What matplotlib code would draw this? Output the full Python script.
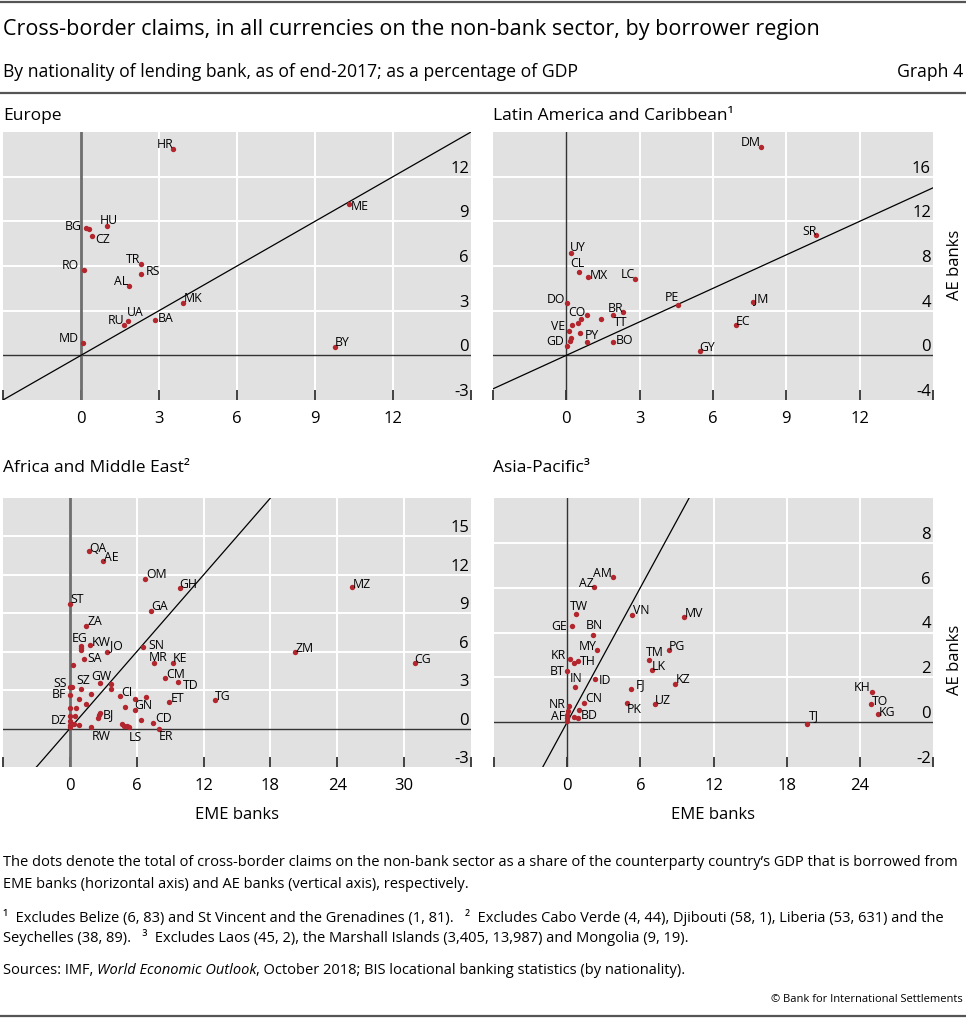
import numpy as np
import matplotlib
matplotlib.use("Agg")
import matplotlib.pyplot as plt
from matplotlib.lines import Line2D

plt.rcParams['font.family'] = ['Open Sans', 'DejaVu Sans']

# ---------------- data (x = EME banks, y = AE banks, % of GDP) ----------------
eu_codes = ['HR', 'ME', 'HU', 'BG', '', 'CZ', 'RO', 'TR', 'RS', 'AL', 'MK', 'UA', 'RU', 'BA', 'MD', 'BY']
eu_eme = [3.54, 10.29, 1.00, 0.19, 0.29, 0.41, 0.13, 2.29, 2.31, 1.84, 3.94, 1.80, 1.66, 2.83, 0.08, 9.78]
eu_ae = [13.88, 10.18, 8.66, 8.55, 8.48, 7.99, 5.76, 6.14, 5.47, 4.69, 3.53, 2.28, 2.05, 2.39, 0.83, 0.56]

la_codes = ['DM', 'SR', 'UY', 'CL', 'MX', 'LC', 'DO', 'PE', 'JM', 'EC', 'GY', 'BR', 'TT', '', '',
            'CO', '', '', 'VE', '', '', '', 'GD', 'PY', 'BO']
la_eme = [7.95, 10.22, 0.18, 0.51, 0.87, 2.80, 0.04, 4.56, 7.65, 6.93, 5.45, 2.31, 1.89, 1.41, 0.86,
          0.61, 0.46, 0.22, 0.10, 0.56, 0.18, 0.14, 0.01, 0.86, 1.91]
la_ae = [18.69, 10.76, 9.18, 7.48, 7.03, 6.86, 4.65, 4.50, 4.77, 2.71, 0.36, 3.87, 3.61, 3.22, 3.58,
         3.28, 2.92, 2.71, 2.18, 1.97, 1.55, 1.25, 0.86, 1.22, 1.16]

af_codes = ['QA', 'AE', 'OM', 'GH', 'ST', 'GA', 'ZA', 'EG', '', '', 'KW', 'JO', 'SN', 'SA', 'MR', 'KE', '',
            'CM', 'TD', 'GW', '', '', 'SS', '', 'SZ', 'BF', '', 'CI', '', '', '', 'ET', 'TG', '', '', '',
            '', 'GN', 'BJ', '', '', '', '', '', 'CD', 'DZ', '', '', '', '', '', 'RW', '', '', '', 'LS',
            'ER', 'ZM', 'MZ', 'CG']
af_eme = [1.70, 2.96, 6.75, 9.85, 0.00, 7.25, 1.49, 1.00, 1.00, 0.97, 1.79, 3.31, 6.54, 1.28, 7.58, 9.28, 0.27,
          8.51, 9.73, 2.75, 3.70, 3.70, 0.00, 0.21, 1.04, 0.03, 1.88, 4.51, 0.78, 5.85, 6.84, 8.90, 12.99, 1.43,
          0.00, 0.51, 4.96, 5.82, 2.72, 2.60, 2.54, 0.00, 0.48, 6.42, 7.43, 0.00, 0.00, 0.21, 0.36, 0.81, 0.00,
          1.91, 4.66, 4.90, 5.13, 5.34, 8.03, 20.21, 25.31, 30.96]
af_ae = [13.83, 13.11, 11.71, 10.95, 9.73, 9.19, 8.02, 6.46, 6.28, 6.10, 6.51, 6.00, 6.38, 5.40, 5.09, 5.14, 4.96,
         3.94, 3.63, 3.56, 3.50, 3.11, 3.24, 3.22, 3.11, 2.60, 2.73, 2.54, 2.31, 2.31, 2.44, 2.05, 2.21, 1.95,
         1.58, 1.61, 1.69, 1.45, 1.19, 1.04, 0.86, 0.99, 1.01, 0.67, 0.47, 0.60, 0.29, 0.34, 0.39, 0.29, 0.10,
         0.16, 0.34, 0.23, 0.18, 0.13, 0.00, 5.97, 11.03, 5.11]

ap_codes = ['AM', 'AZ', 'TW', 'VN', 'MV', 'GE', 'BN', 'MY', 'PG', 'TM', 'KR', '', 'TH', 'LK', 'BT', 'IN',
            'ID', 'KZ', 'FJ', 'CN', 'PK', 'UZ', 'NR', '', 'AF', '', '', '', '', 'BD', 'KH', 'TO', 'KG', 'TJ']
ap_eme = [3.72, 2.19, 0.71, 5.33, 9.60, 0.41, 2.13, 2.43, 8.37, 6.70, 0.27, 0.55, 0.85, 6.97, 0.00, 0.63,
          2.32, 8.86, 5.25, 1.42, 4.87, 7.22, 0.14, 0.05, 0.00, 0.00, 0.00, 0.93, 0.55, 0.85, 24.99, 24.93,
          25.48, 19.70]
ap_ae = [6.46, 6.01, 4.84, 4.79, 4.67, 4.28, 3.91, 3.20, 3.20, 2.77, 2.81, 2.65, 2.74, 2.32, 2.28, 1.57,
         1.94, 1.72, 1.49, 0.87, 0.87, 0.81, 0.70, 0.52, 0.18, 0.33, 0.03, 0.53, 0.22, 0.18, 1.36, 0.81,
         0.36, -0.09]

# label offsets from the dot, in pixels (dx, dy up)
eu_off = {'HR': (-8, 4), 'ME': (11, -3), 'HU': (2, 6), 'BG': (-13, 2), 'CZ': (11, -3), 'RO': (-14, 4),
          'TR': (-7, 4), 'RS': (12, 2), 'AL': (-8, 4), 'MK': (10, 4), 'UA': (7, 9), 'RU': (-8, 4),
          'BA': (11, 1), 'MD': (-14, 4), 'BY': (7, 4)}
la_off = {'DM': (-10, 4), 'SR': (-7, 4), 'UY': (7, 5), 'CL': (-1, 8), 'MX': (11, 1), 'LC': (-7, 4),
          'DO': (-11, 4), 'PE': (-6, 8), 'JM': (8, 4), 'EC': (7, 4), 'GY': (8, 4), 'BR': (-7, 4),
          'TT': (8, -7), 'CO': (-4, 6), 'VE': (-11, 4), 'PY': (5, 6), 'GD': (-11, 4), 'BO': (11, 2)}
af_off = {'QA': (9, 3), 'AE': (8, 3), 'OM': (11, 4), 'GH': (9, 4), 'ST': (7, 4), 'GA': (9, 4), 'ZA': (8, 4),
          'EG': (-1, 7), 'KW': (11, 3), 'JO': (10, 6), 'SN': (14, 1), 'SA': (11, 1), 'MR': (4, 6),
          'KE': (7, 4), 'CM': (11, 4), 'TD': (12, -3), 'GW': (1, 6), 'SS': (-10, 4), 'SZ': (2, 8),
          'BF': (-11, 1), 'CI': (7, 4), 'ET': (9, 4), 'TG': (8, 4), 'GN': (9, 4), 'BJ': (8, -1),
          'CD': (11, 4), 'DZ': (-11, 0), 'RW': (10, -10), 'LS': (6, -11), 'ER': (7, -8),
          'ZM': (10, 4), 'MZ': (10, 3), 'CG': (8, 4)}
ap_off = {'AM': (-10, 4), 'AZ': (-7, 4), 'TW': (3, 7), 'VN': (9, 4), 'MV': (10, 4), 'GE': (-13, 0),
          'BN': (1, 9), 'MY': (-9, 4), 'PG': (8, 4), 'TM': (6, 8), 'KR': (-12, 4), 'TH': (10, -1),
          'LK': (7, 4), 'BT': (-10, 0), 'IN': (1, 8), 'ID': (9, -2), 'KZ': (8, 4), 'FJ': (9, 4),
          'CN': (9, 4), 'PK': (8, -7), 'UZ': (8, 4), 'NR': (-12, 2), 'AF': (-9, 2), 'BD': (12, 3),
          'KH': (-10, 4), 'TO': (9, 3), 'KG': (9, 2), 'TJ': (6, 9)}

W, H = 966, 1019
fig = plt.figure(figsize=(W / 100, H / 100), dpi=100)


def fx(px):
    return px / W


def fy(py):
    return 1 - py / H


DOT = '#b3262d'
BG = '#e1e1e1'


def panel(box, codes, eme, ae, offs, xlim, ylim, xstep, ystep, vzero):
    l, t, r, b = box
    ax = fig.add_axes([fx(l), fy(b), fx(r) - fx(l), fy(t) - fy(b)])
    ax.set_facecolor(BG)
    for s in ax.spines.values():
        s.set_visible(False)
    ax.set_xlim(xlim)
    ax.set_ylim(ylim)

    xt = np.arange(xlim[0], xlim[1] + 0.01, xstep)
    yt = np.arange(ylim[0], ylim[1] - ystep + 0.01, ystep)
    for v in xt[1:-1]:
        if v != 0:
            ax.axvline(v, color='white', lw=1.4, zorder=1)
    for v in yt[1:]:
        if v != 0:
            ax.axhline(v, color='white', lw=1.4, zorder=1)

    ax.axhline(0, color='#333333', lw=1.0, zorder=2)
    ax.axvline(0, color=vzero[0], lw=vzero[1], zorder=2)
    ax.axline((0, 0), slope=1, color='black', lw=0.9, zorder=3)

    ax.scatter(eme, ae, s=15, color=DOT, linewidths=0, zorder=4)
    for c, x, y in zip(codes, eme, ae):
        if c:
            ax.annotate(c, (x, y), xytext=offs[c], textcoords='offset pixels',
                        ha='center', va='center', fontsize=8.8, zorder=5)

    ax.set_xticks(xt)
    ax.set_xticklabels([''] + [f'{int(v)}' for v in xt[1:-1]] + [''])
    ax.xaxis.set_ticks_position('bottom')
    ax.tick_params(axis='x', direction='in', length=7, width=1.3, color='#333333',
                   labelsize=12, pad=8)

    ax.yaxis.tick_right()
    ax.set_yticks(yt)
    ax.set_yticklabels([f'{int(v)}' for v in yt])
    ax.tick_params(axis='y', length=0, pad=-1.5, labelsize=12)
    for lab in ax.get_yticklabels():
        lab.set_ha('right')
        lab.set_va('bottom')
    return ax


panel((3, 132, 471, 400), eu_codes, eu_eme, eu_ae, eu_off, (-3, 15), (-3, 15), 3, 3, ('#6e6e6e', 2.0))
panel((493, 132, 933, 400), la_codes, la_eme, la_ae, la_off, (-3, 15), (-4, 20), 3, 4, ('#333333', 1.0))
panel((3, 498, 471, 767), af_codes, af_eme, af_ae, af_off, (-6, 36), (-3, 18), 6, 3, ('#6e6e6e', 2.0))
panel((494, 498, 933, 767), ap_codes, ap_eme, ap_ae, ap_off, (-6, 30), (-2, 10), 6, 2, ('#333333', 1.0))

# panel titles and axis titles
fig.text(fx(3), fy(116), 'Europe', fontsize=12.5, va='center')
fig.text(fx(493), fy(116), 'Latin America and Caribbean¹', fontsize=12.5, va='center')
fig.text(fx(3), fy(468), 'Africa and Middle East²', fontsize=12.5, va='center')
fig.text(fx(493), fy(468), 'Asia-Pacific³', fontsize=12.5, va='center')
for yy in (265, 660):
    fig.text(fx(955), fy(yy), 'AE banks', fontsize=12, rotation=90, ha='center', va='center')
for xx in (237, 713):
    fig.text(fx(xx), fy(815), 'EME banks', fontsize=12, ha='center', va='center')

# header
rule = '#555555'
fig.add_artist(Line2D([0, 1], [fy(2), fy(2)], transform=fig.transFigure, color=rule, lw=1.6))
fig.add_artist(Line2D([0, 1], [fy(93), fy(93)], transform=fig.transFigure, color=rule, lw=1.6))
fig.add_artist(Line2D([0, 1], [fy(1016), fy(1016)], transform=fig.transFigure, color=rule, lw=1.6))
fig.text(fx(3), fy(30), 'Cross-border claims, in all currencies on the non-bank sector, by borrower region',
         fontsize=15.5, va='center')
fig.text(fx(3), fy(72), 'By nationality of lending bank, as of end-2017; as a percentage of GDP',
         fontsize=12.7, va='center')
fig.text(fx(963), fy(72), 'Graph 4', fontsize=12.7, va='center', ha='right')

# footnotes
fs = 10.5
fig.text(fx(3), fy(863), 'The dots denote the total of cross-border claims on the non-bank sector as a share '
         'of the counterparty country\u2019s GDP that is borrowed from', fontsize=fs, va='center')
fig.text(fx(3), fy(884), 'EME banks (horizontal axis) and AE banks (vertical axis), respectively.',
         fontsize=fs, va='center')
fig.text(fx(3), fy(917), '¹  Excludes Belize (6, 83) and St Vincent and the Grenadines (1, 81).   '
         '²  Excludes Cabo Verde (4, 44), Djibouti (58, 1), Liberia (53, 631) and the',
         fontsize=fs, va='center')
fig.text(fx(3), fy(937), 'Seychelles (38, 89).   ³  Excludes Laos (45, 2), the Marshall Islands '
         '(3,405, 13,987) and Mongolia (9, 19).', fontsize=fs, va='center')

renderer = fig.canvas.get_renderer()
x0 = fx(3)
for part, style in [('Sources: IMF, ', 'normal'), ('World Economic Outlook', 'italic'),
                    (', October 2018; BIS locational banking statistics (by nationality).', 'normal')]:
    t = fig.text(x0, fy(970), part, fontsize=fs, va='center', style=style)
    bb = t.get_window_extent(renderer)
    x0 += bb.width / W

fig.text(fx(963), fy(1000), '\u00a9 Bank for International Settlements', fontsize=8, va='center', ha='right')

fig.savefig('out.png', dpi=100)
